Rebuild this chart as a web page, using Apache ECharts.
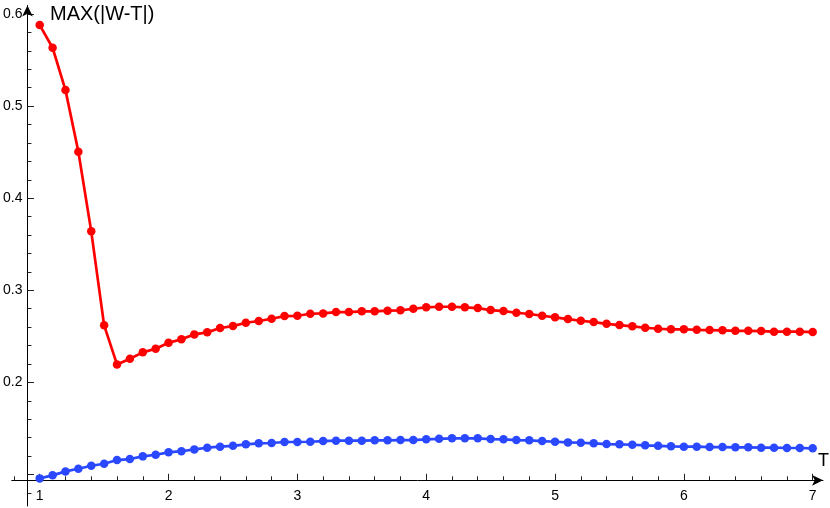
<!DOCTYPE html>
<html>
<head>
<meta charset="utf-8">
<style>html,body{margin:0;padding:0;background:#fff;}#c{width:830px;height:508px;}</style>
<script src="https://cdn.jsdelivr.net/npm/echarts@6/dist/echarts.min.js"></script>
</head>
<body>
<div id="c"></div>
<script>
var tValues = [1.0,1.1,1.2,1.3,1.4,1.5,1.6,1.7,1.8,1.9,2.0,2.1,2.2,2.3,2.4,2.5,2.6,2.7,2.8,2.9,3.0,3.1,3.2,3.3,3.4,3.5,3.6,3.7,3.8,3.9,4.0,4.1,4.2,4.3,4.4,4.5,4.6,4.7,4.8,4.9,5.0,5.1,5.2,5.3,5.4,5.5,5.6,5.7,5.8,5.9,6.0,6.1,6.2,6.3,6.4,6.5,6.6,6.7,6.8,6.9,7.0];
var redValues = [0.588,0.5634,0.5174,0.4504,0.364,0.2619,0.2195,0.2256,0.2326,0.2365,0.2430,0.2467,0.2521,0.2543,0.2590,0.2611,0.2647,0.2666,0.2691,0.2720,0.2723,0.2745,0.2749,0.2763,0.2763,0.2771,0.2771,0.2778,0.2782,0.2799,0.2815,0.2821,0.2821,0.2815,0.2807,0.2785,0.2774,0.2756,0.2742,0.2723,0.2706,0.2687,0.2669,0.2655,0.2636,0.2622,0.2608,0.2593,0.2582,0.2576,0.2576,0.2571,0.2568,0.2565,0.2560,0.2560,0.2557,0.2550,0.2550,0.2550,0.2546];
var blueValues = [0.0957,0.0990,0.1033,0.1062,0.1094,0.1116,0.1156,0.1167,0.1196,0.1214,0.1240,0.1252,0.1272,0.1290,0.1301,0.1311,0.1327,0.1338,0.1341,0.1352,0.1352,0.1355,0.1362,0.1366,0.1366,0.1366,0.1370,0.1370,0.1373,0.1373,0.1381,0.1387,0.1392,0.1392,0.1392,0.1384,0.1381,0.1373,0.1370,0.1362,0.1355,0.1348,0.1344,0.1338,0.1330,0.1327,0.1322,0.1316,0.1311,0.1305,0.1301,0.1301,0.1297,0.1297,0.1294,0.1294,0.1290,0.1290,0.1287,0.1287,0.1283];
var xMajorTicks = [1,2,3,4,5,6,7];
var xMinorTicks = [0.8,1.2,1.4,1.6,1.8,2.2,2.4,2.6,2.8,3.2,3.4,3.6,3.8,4.2,4.4,4.6,4.8,5.2,5.4,5.6,5.8,6.2,6.4,6.6,6.8];
var yMajorTicks = [0.1,0.2,0.3,0.4,0.5,0.6];
var yTickLabels = [0.2,0.3,0.4,0.5,0.6];
var yMinorTicks = [0.08,0.12,0.14,0.16,0.18,0.22,0.24,0.26,0.28,0.32,0.34,0.36,0.38,0.42,0.44,0.46,0.48,0.52,0.54,0.56,0.58];

var X_MIN = 0.783, X_MAX = 7.080, Y_MIN = 0.0657, Y_MAX = 0.6093;
var FONT = '"Liberation Sans", Arial, sans-serif';

function pairs(xs, ys){ return xs.map(function(x,i){ return [x, ys[i]]; }); }

var chart = echarts.init(document.getElementById('c'), null, {renderer:'canvas'});
var axisLineStyle = {color:'#000', width:1};
chart.setOption({
  animation:false,
  backgroundColor:'#fff',
  title:[
    {text:'MAX(|W-T|)', left:50, top:4, textStyle:{fontFamily:FONT, fontSize:20, fontWeight:'normal', color:'#000'}, padding:0},
    {text:'T', left:818, top:452, textStyle:{fontFamily:FONT, fontSize:18, fontWeight:'normal', color:'#000'}, padding:0}
  ],
  grid:{left:11, right:7, top:5.5, bottom:2, containLabel:false},
  xAxis:[
    {type:'value', min:X_MIN, max:X_MAX, offset:-25.7, splitLine:{show:false},
     axisLine:{show:true, onZero:false, lineStyle:axisLineStyle, symbol:['none','arrow'], symbolSize:[8,11]},
     axisTick:{show:true, inside:true, length:6.5, lineStyle:{color:'#222'}, customValues:xMajorTicks},
     axisLabel:{show:true, margin:9, fontFamily:FONT, fontSize:14, color:'#000', customValues:xMajorTicks}},
    {type:'value', min:X_MIN, max:X_MAX, offset:-25.7, position:'bottom', splitLine:{show:false},
     axisLine:{show:false, onZero:false},
     axisTick:{show:true, inside:true, length:4, lineStyle:{color:'#222'}, customValues:xMinorTicks},
     axisLabel:{show:false}}
  ],
  yAxis:[
    {type:'value', min:Y_MIN, max:Y_MAX, offset:-15.7, splitLine:{show:false},
     axisLine:{show:true, onZero:false, lineStyle:axisLineStyle, symbol:['none','arrow'], symbolSize:[8,11]},
     axisTick:{show:true, inside:true, length:6.5, lineStyle:{color:'#222'}, customValues:yMajorTicks},
     axisLabel:{show:true, margin:5, fontFamily:FONT, fontSize:14, color:'#000', customValues:yTickLabels,
       formatter:function(v){ return (Math.round(v*10)/10).toFixed(1); }}},
    {type:'value', min:Y_MIN, max:Y_MAX, offset:-15.7, position:'left', splitLine:{show:false},
     axisLine:{show:false, onZero:false},
     axisTick:{show:true, inside:true, length:4, lineStyle:{color:'#222'}, customValues:yMinorTicks},
     axisLabel:{show:false}}
  ],
  series:[
    {type:'line', data:pairs(tValues, redValues), xAxisIndex:0, yAxisIndex:0, symbol:'circle', symbolSize:8.5,
     lineStyle:{color:'#ff0000', width:2.7}, itemStyle:{color:'#ff0000'}, z:3},
    {type:'line', data:pairs(tValues, blueValues), xAxisIndex:0, yAxisIndex:0, symbol:'circle', symbolSize:8.5,
     lineStyle:{color:'#2a48ff', width:2.7}, itemStyle:{color:'#2a48ff'}, z:3}
  ]
});
</script>
</body>
</html>
